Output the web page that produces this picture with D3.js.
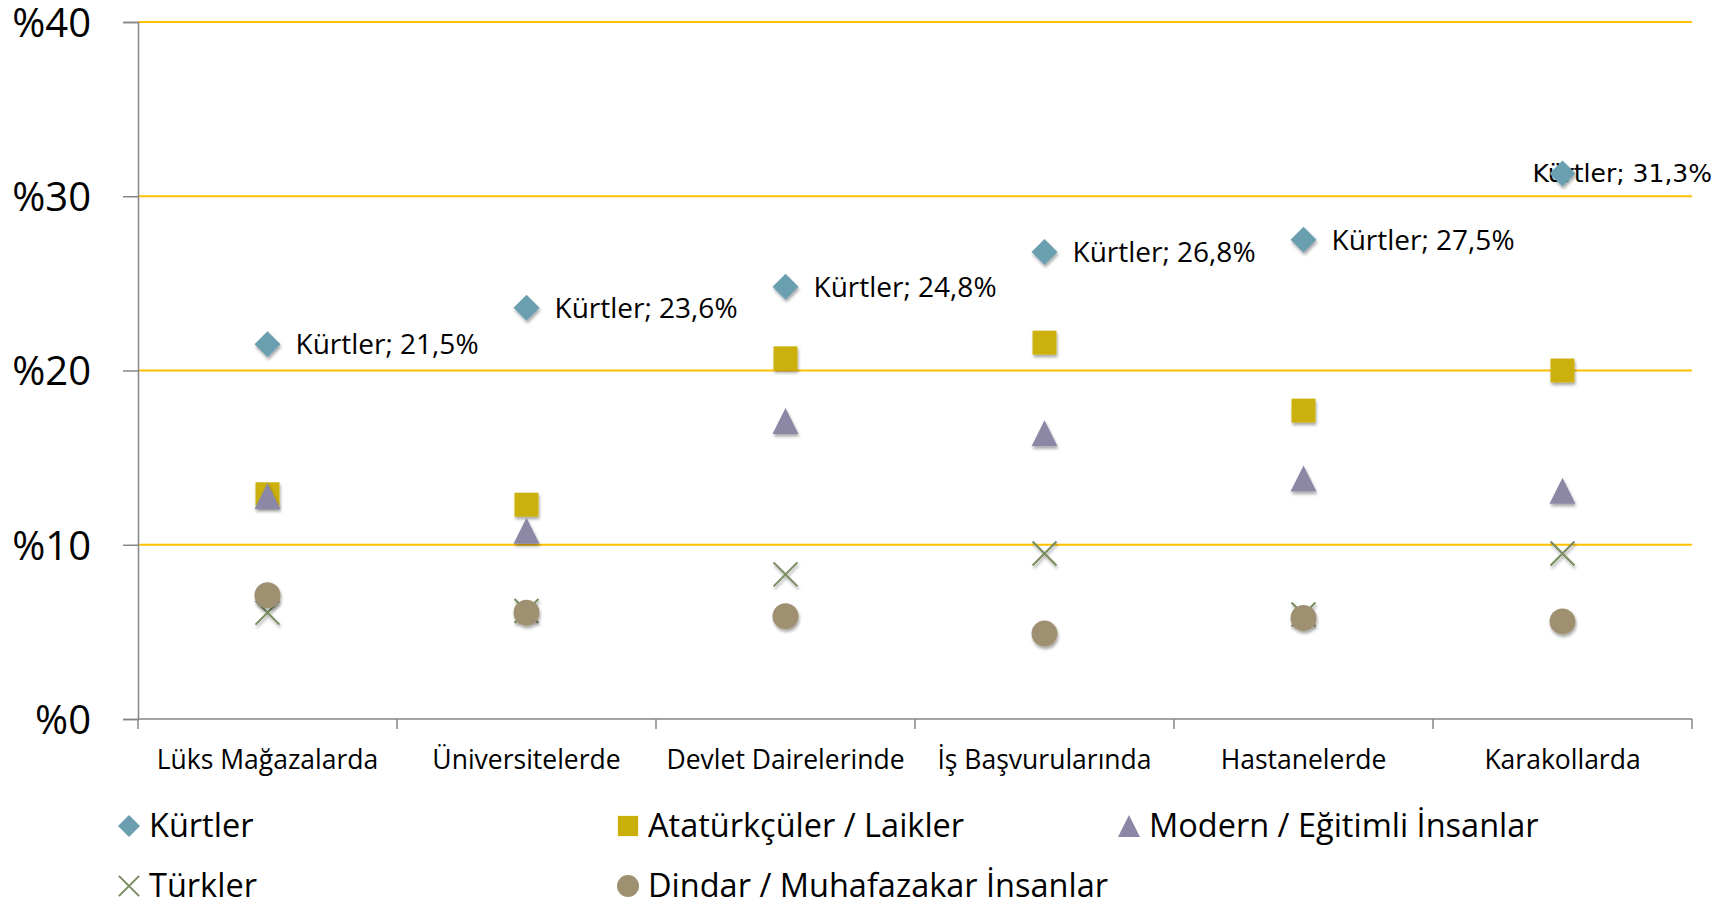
<!DOCTYPE html>
<html>
<head>
<meta charset="utf-8">
<script src="https://cdn.jsdelivr.net/npm/d3@7"></script>
<style>
  body { margin: 0; background: #fff; }
  svg { display: block; }
  .axis path, .axis line { stroke: #868686; stroke-width: 1.5px; }
  .axis text { fill: #000; font-family: "Open Sans", sans-serif; }
</style>
</head>
<body>
<div id="chart"></div>
<script>
// categories and series
var categories = ["Lüks Mağazalarda", "Üniversitelerde", "Devlet Dairelerinde", "İş Başvurularında", "Hastanelerde", "Karakollarda"];
var seriesNames = ["Kürtler", "Atatürkçüler / Laikler", "Modern / Eğitimli İnsanlar", "Türkler", "Dindar / Muhafazakar İnsanlar"];
var kurtler = [21.5, 23.6, 24.8, 26.8, 27.5, 31.3];
var ataturkculer = [12.9, 12.3, 20.7, 21.6, 17.7, 20.0];
var modern = [12.8, 10.8, 17.1, 16.4, 13.8, 13.1];
var turkler = [6.1, 6.2, 8.3, 9.5, 6.0, 9.5];
var dindar = [7.1, 6.1, 5.9, 4.9, 5.8, 5.6];
var yTicks = [0, 10, 20, 30, 40];

var width = 1734, height = 905;
var plot = { left: 138, right: 1692, top: 22, bottom: 719 };

var series = [
  { name: seriesNames[0], values: kurtler, shape: "diamond", color: "#6b9fb0", label: true },
  { name: seriesNames[1], values: ataturkculer, shape: "square", color: "#ccb00a" },
  { name: seriesNames[2], values: modern, shape: "triangle", color: "#8b87a5" },
  { name: seriesNames[3], values: turkler, shape: "cross", color: "#788c5e" },
  { name: seriesNames[4], values: dindar, shape: "circle", color: "#9e9070" }
];

var x = d3.scaleBand().domain(categories).range([plot.left, plot.right]).paddingInner(0).paddingOuter(0);
var y = d3.scaleLinear().domain([0, 40]).range([plot.bottom, plot.top]);

var svg = d3.select("#chart").append("svg")
  .attr("width", width)
  .attr("height", height);

var defs = svg.append("defs");
defs.append("filter")
  .attr("id", "shadow")
  .attr("x", "-50%").attr("y", "-50%").attr("width", "200%").attr("height", "200%")
  .append("feDropShadow")
    .attr("dx", 1).attr("dy", 2.5)
    .attr("stdDeviation", 1.5)
    .attr("flood-color", "#000")
    .attr("flood-opacity", 0.35);

// draws a marker shape centred on 0,0
function drawMarker(g, shape, color, s){
  var h = s/2;
  if(shape == "diamond"){
    g.append("path").attr("d", "M0," + (-h) + "L" + h + ",0L0," + h + "L" + (-h) + ",0Z").attr("fill", color);
  }else if(shape == "square"){
    g.append("rect").attr("x", -h*0.92).attr("y", -h*0.92).attr("width", s*0.92).attr("height", s*0.92).attr("fill", color);
  }else if(shape == "triangle"){
    g.append("path").attr("d", "M0," + (-h) + "L" + h + "," + h + "L" + (-h) + "," + h + "Z").attr("fill", color);
  }else if(shape == "circle"){
    g.append("circle").attr("r", h).attr("fill", color);
  }else if(shape == "cross"){
    var c = h*0.92;
    g.append("path").attr("d", "M" + (-c) + "," + (-c) + "L" + c + "," + c + "M" + c + "," + (-c) + "L" + (-c) + "," + c)
      .attr("stroke", color).attr("stroke-width", 2).attr("fill", "none");
  }
}

/******************************************/
//              Grid + axes               //
/******************************************/

svg.append("g")
  .attr("class", "grid")
  .selectAll("line")
  .data(yTicks.filter(function(d){ return d > 0; }))
  .enter().append("line")
    .attr("x1", plot.left)
    .attr("x2", plot.right)
    .attr("y1", function(d){ return y(d); })
    .attr("y2", function(d){ return y(d); })
    .attr("stroke", "#ffc000")
    .attr("stroke-width", 2);

var yAxis = svg.append("g")
  .attr("class", "axis")
  .attr("transform", "translate(" + plot.left + ",0)")
  .call(d3.axisLeft(y).tickValues(yTicks).tickSize(15).tickPadding(32).tickFormat(function(d){ return "%" + d; }));
yAxis.selectAll("text").attr("font-size", "40px").attr("dy", "0.36em");

var xAxis = svg.append("g")
  .attr("class", "axis")
  .attr("transform", "translate(0," + plot.bottom + ")")
  .call(d3.axisBottom(x).tickSize(0).tickPadding(0));
xAxis.select(".domain").remove();
xAxis.selectAll("text").attr("font-size", "26.5px").attr("y", 41).attr("dy", "0.35em");

xAxis.append("line")
  .attr("x1", plot.left).attr("x2", plot.right)
  .attr("y1", 0).attr("y2", 0);

// ticks on category boundaries
var boundaries = categories.map(function(c){ return x(c); }).concat([plot.right]);
xAxis.selectAll(".bound")
  .data(boundaries)
  .enter().append("line")
    .attr("class", "bound")
    .attr("x1", function(d){ return d; })
    .attr("x2", function(d){ return d; })
    .attr("y1", 0)
    .attr("y2", 10);

/******************************************/
//           Labels + markers             //
/******************************************/

var labels = svg.append("g").attr("class", "labels");
var markers = svg.append("g").attr("class", "markers");
var cx = function(i){ return x(categories[i]) + x.bandwidth()/2; };

series.forEach(function(s){
  if(s.label){
    s.values.forEach(function(v, i){
      var t = labels.append("text")
        .attr("font-family", i == s.values.length-1 ? "DejaVu Sans, sans-serif" : "Open Sans, sans-serif")
        .attr("font-size", i == s.values.length-1 ? "25px" : "28px")
        .attr("y", y(v))
        .attr("dy", "0.35em")
        .attr("fill", "#000")
        .text(s.name + "; " + d3.format(".1f")(v).replace(".", ",") + "%");
      var tx = cx(i) + 28;
      var tw = t.node().getComputedTextLength();
      if(tx + tw > width - 22) tx = width - 22 - tw;
      t.attr("x", tx);
    });
  }
  var g = markers.append("g").attr("class", "series");
  s.values.forEach(function(v, i){
    var m = g.append("g")
      .attr("filter", "url(#shadow)")
      .attr("transform", "translate(" + cx(i) + "," + y(v) + ")");
    drawMarker(m, s.shape, s.color, 26);
  });
});

/******************************************/
//                 Legend                 //
/******************************************/

var legendPos = [[129, 826], [628, 826], [1129, 826], [129, 886], [628, 886]];
var legend = svg.append("g").attr("class", "legend");
series.forEach(function(s, i){
  var item = legend.append("g")
    .attr("transform", "translate(" + legendPos[i][0] + "," + legendPos[i][1] + ")");
  var m = item.append("g");
  drawMarker(m, s.shape, s.color, 22);
  item.append("text")
    .attr("x", 20)
    .attr("dy", "0.35em")
    .attr("font-family", "Open Sans, sans-serif")
    .attr("font-size", "32.5px")
    .attr("fill", "#000")
    .text(s.name);
});
</script>
</body>
</html>
